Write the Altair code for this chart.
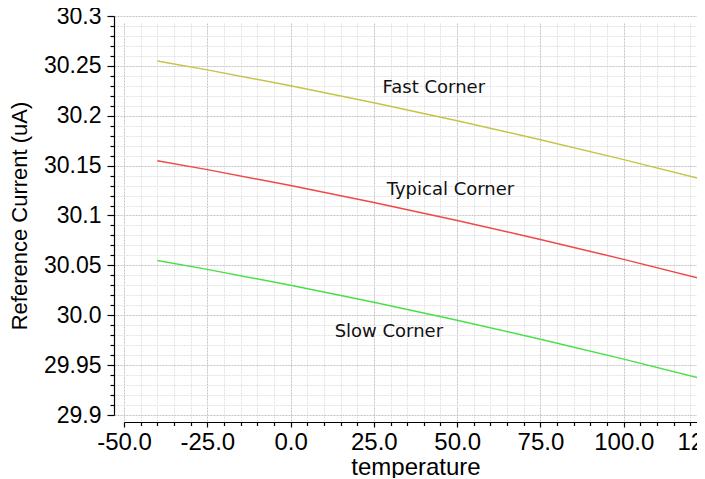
import altair as alt
import pandas as pd

temps = [-40, -25, 0, 25, 50, 75, 100, 125]
fast = [30.255, 30.246, 30.230, 30.213, 30.195, 30.176, 30.156, 30.135]
typical = [30.155, 30.146, 30.130, 30.113, 30.095, 30.076, 30.056, 30.035]
slow = [30.055, 30.046, 30.030, 30.013, 29.995, 29.976, 29.956, 29.935]

corner_names = ["Fast Corner", "Typical Corner", "Slow Corner"]
corner_colors = ["#c4c448", "#f04848", "#48e048"]
label_x = [43, 48, 29.5]
label_y = [30.228, 30.1256, 29.983]

x_ticks = list(range(-50, 130, 5))
y_ticks = [round(29.9 + i * 0.01, 2) for i in range(41)]

rows = []
for name, series in zip(corner_names, [fast, typical, slow]):
    for t, v in zip(temps, series):
        rows.append({"temperature": t, "current": v, "corner": name})
df = pd.DataFrame(rows)
labels = pd.DataFrame({"temperature": label_x, "current": label_y, "text": corner_names})

x_major = "datum.value % 25 === 0"
y_major = "abs(datum.value * 20 - round(datum.value * 20)) < 1e-6"

x_scale = alt.Scale(domain=[-50, 125], range=[0, 583], nice=False, zero=False)
y_scale = alt.Scale(domain=[29.9, 30.3], nice=False, zero=False)

x_axis = alt.Axis(
    values=x_ticks,
    labelExpr=f"{x_major} ? datum.value + '.0' : ''",
    title="temperature",
    tickSize={"condition": {"test": x_major, "value": 5}, "value": 3.5},
    gridColor={"condition": {"test": x_major, "value": "#c4c4c4"}, "value": "#e2e2e2"},
)

y_axis = alt.Axis(
    values=y_ticks,
    labelExpr=f"{y_major} ? (datum.value == 30 ? '30.0' : format(datum.value, '.2~f')) : ''",
    title="Reference Current (uA)",
    tickSize={"condition": {"test": y_major, "value": 7}, "value": 4},
    gridColor={"condition": {"test": y_major, "value": "#c4c4c4"}, "value": "#e2e2e2"},
)

x_enc = alt.X("temperature:Q", scale=x_scale, axis=x_axis)
y_enc = alt.Y("current:Q", scale=y_scale, axis=y_axis)

lines = alt.Chart(df).mark_line(strokeWidth=1.5).encode(
    x=x_enc,
    y=y_enc,
    color=alt.Color("corner:N", scale=alt.Scale(domain=corner_names, range=corner_colors), legend=None),
)

text = alt.Chart(labels).mark_text(
    font="DejaVu Sans", fontSize=18, color="#111111", align="center", baseline="middle"
).encode(
    x=x_enc,
    y=y_enc,
    text="text:N",
)

chart = alt.layer(lines, text).properties(
    width=573,
    height=399,
    autosize=alt.AutoSizeParams(type="none"),
    padding={"left": 116, "top": 8, "right": 0, "bottom": 63},
    background="#ffffff",
).configure_view(
    strokeOpacity=0
).configure_axis(
    labelOverlap=False,
    labelFont="Liberation Sans",
    labelColor="#000000",
    titleFont="Liberation Sans",
    titleFontWeight="normal",
    titleColor="#000000",
    domainColor="#000000",
    domainWidth=1.2,
    tickColor="#000000",
    tickWidth=1.2,
    grid=True,
    gridDash=[2, 1],
    gridWidth=1,
).configure_axisX(
    offset=7,
    labelFlush=False,
    labelFontSize=24,
    labelPadding=3,
    titleFontSize=24,
    titlePadding=1,
).configure_axisY(
    offset=10,
    labelFontSize=23,
    labelPadding=6,
    titleFontSize=22,
    titlePadding=12,
)

chart.save("out.html", embed_options={"renderer": "svg", "actions": False})
